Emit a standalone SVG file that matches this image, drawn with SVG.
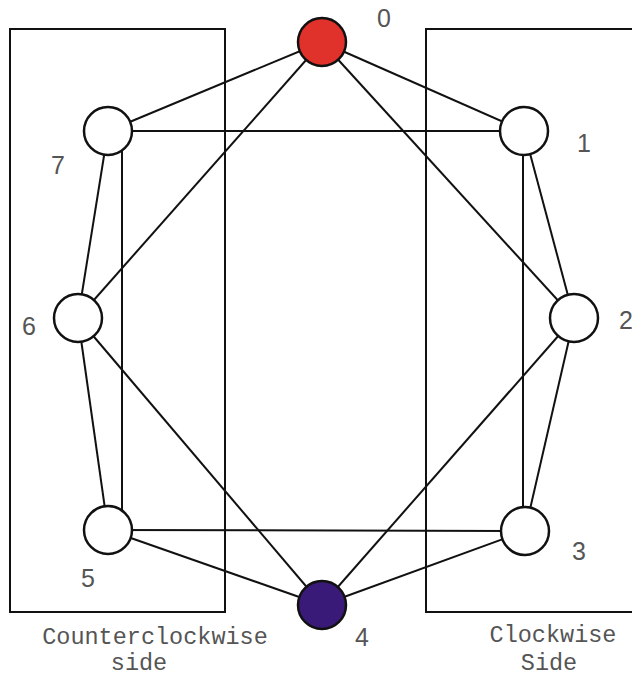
<svg xmlns="http://www.w3.org/2000/svg" width="632" height="677" viewBox="0 0 632 677">
<style>
.box{fill:none;stroke:#111;stroke-width:2}
.e line{stroke:#111;stroke-width:2}
.n{fill:#fff;stroke:#111;stroke-width:2.5}
.lbl{font-family:"Liberation Sans",Arial,sans-serif;font-size:25px;fill:#555}
.cap{font-family:"Liberation Mono","Courier New",monospace;font-size:23.5px;fill:#555}
</style>
<rect width="632" height="677" fill="#fff"/>
<rect class="box" x="10" y="29" width="215" height="583"/>
<rect class="box" x="426" y="29" width="210" height="583"/>
<g class="e" id="connectors">
<line x1="322" y1="42" x2="108" y2="131"/>
<line x1="322" y1="42" x2="524" y2="131"/>
<line x1="322" y1="42" x2="78" y2="318"/>
<line x1="322" y1="42" x2="574" y2="318"/>
<line x1="108" y1="131" x2="524" y2="131"/>
<line x1="108" y1="131" x2="78" y2="318"/>
<line x1="122" y1="131" x2="122" y2="530"/>
<line x1="78" y1="318" x2="108" y2="530"/>
<line x1="524" y1="131" x2="574" y2="318"/>
<line x1="523" y1="131" x2="523" y2="531"/>
<line x1="574" y1="318" x2="525" y2="531"/>
<line x1="108" y1="530" x2="525" y2="531"/>
<line x1="108" y1="530" x2="322" y2="605"/>
<line x1="525" y1="531" x2="322" y2="605"/>
<line x1="78" y1="318" x2="322" y2="605"/>
<line x1="574" y1="318" x2="322" y2="605"/>
</g>
<g id="n0"><circle class="n" cx="322" cy="42" r="24" style="fill:#e0312a"/><text class="lbl" x="377" y="27">0</text></g>
<g id="n1"><circle class="n" cx="524" cy="131" r="24"/><text class="lbl" x="577" y="152">1</text></g>
<g id="n2"><circle class="n" cx="574" cy="318" r="24"/><text class="lbl" x="619" y="329">2</text></g>
<g id="n3"><circle class="n" cx="525" cy="531" r="24"/><text class="lbl" x="572" y="560">3</text></g>
<g id="n4"><circle class="n" cx="322" cy="605" r="24" style="fill:#3a1a78"/><text class="lbl" x="355" y="646">4</text></g>
<g id="n5"><circle class="n" cx="108" cy="530" r="24"/><text class="lbl" x="81" y="587">5</text></g>
<g id="n6"><circle class="n" cx="78" cy="318" r="24"/><text class="lbl" x="22" y="335">6</text></g>
<g id="n7"><circle class="n" cx="108" cy="131" r="24"/><text class="lbl" x="51" y="174">7</text></g>
<text class="cap" x="155" y="644" text-anchor="middle">Counterclockwise</text>
<text class="cap" x="139" y="670" text-anchor="middle">side</text>
<text class="cap" x="553" y="642" text-anchor="middle">Clockwise</text>
<text class="cap" x="549" y="670" text-anchor="middle">Side</text>
</svg>
